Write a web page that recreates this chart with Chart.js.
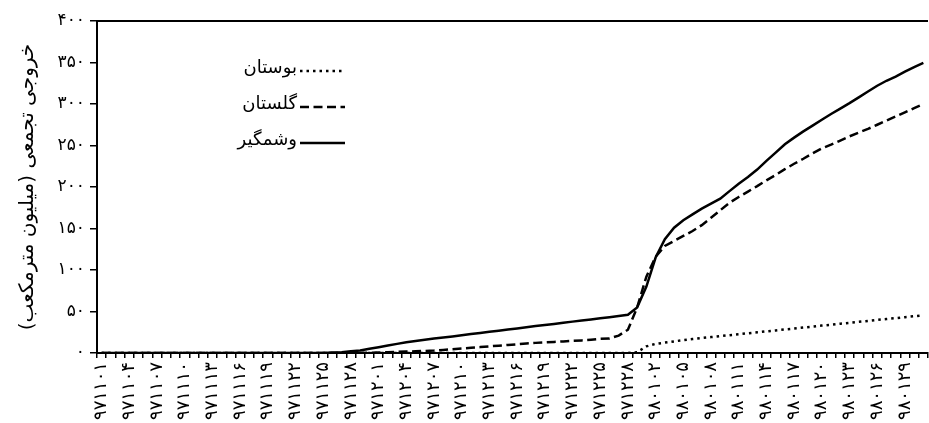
<!DOCTYPE html>
<html lang="fa">
<head>
<meta charset="utf-8">
<script src="https://cdn.jsdelivr.net/npm/chart.js@4.4.1/dist/chart.umd.min.js"></script>
<style>
  html, body { margin: 0; padding: 0; background: #fff; }
</style>
</head>
<body>
<canvas id="myChart" width="929" height="423"></canvas>
<script>
// روزها (تاریخ شمسی، روزانه)
const dates = [
  '971101','971102','971103','971104','971105','971106','971107','971108','971109','971110',
  '971111','971112','971113','971114','971115','971116','971117','971118','971119','971120',
  '971121','971122','971123','971124','971125','971126','971127','971128','971129','971130',
  '971201','971202','971203','971204','971205','971206','971207','971208','971209','971210',
  '971211','971212','971213','971214','971215','971216','971217','971218','971219','971220',
  '971221','971222','971223','971224','971225','971226','971227','971228','971229',
  '980101','980102','980103','980104','980105','980106','980107','980108','980109','980110',
  '980111','980112','980113','980114','980115','980116','980117','980118','980119','980120',
  '980121','980122','980123','980124','980125','980126','980127','980128','980129','980130',
  '980131'
];

// خروجی تجمعی (میلیون مترمکعب)
const bostan = [
  0,0,0,0,0,0,0,0,0,0,
  0,0,0,0,0,0,0,0,0,0,
  0,0,0,0,0,0,0,0,0,0,
  0,0,0,0,0,0,0,0,0,0,
  0,0,0,0,0,0,0,0,0,0,
  0,0,0,0,0,0,0,0,1,8,
  11,12.5,14,15.5,16.8,18,19.2,20.3,21.5,22.6,
  23.8,24.9,26.1,27.2,28.4,29.5,30.7,31.8,33,34.1,
  35.3,36.4,37.5,38.6,39.8,40.9,42,43.2,44.3,45.5
];
const golestan = [
  0,0,0,0,0,0,0,0,0,0,
  0,0,0,0,0,0,0,0,0,0,
  0,0,0,0,0,0,0,0,0,0.3,
  0.6,1,1.3,1.7,2.1,2.5,2.9,3.7,4.6,5.4,
  6.3,7.1,8,8.8,9.7,10.5,11.4,12.2,12.8,13.4,
  14,14.6,15.2,16,17,17.5,21,28,55,92,
  116,129,135,141,147,154,163,172,181,188,
  194.5,201,208,214.5,221.5,228,234,240.5,246.5,251,
  256,261,265.5,270,275,280,285,290,295,300
];
const voshmgir = [
  0,0,0,0,0,0,0,0,0,0,
  0,0,0,0,0,0,0,0,0,0,
  0,0,0,0,0,0.5,1,2,3,5,
  7,9,11,13,14.5,16,17.4,18.7,20,21.4,
  22.8,24.2,25.5,26.9,28.3,29.6,31,32.4,33.7,35,
  36.4,37.8,39.2,40.5,41.9,43.2,44.6,46,55,80,
  115,137,151,160,167,174,180,186,195,204,
  212,221,231.5,241.5,251.5,259.5,267,274,281,288,
  294.5,301,308,315,322,328,333,339,344.5,349.5
];

const seriesNames = ['بوستان', 'گلستان', 'وشمگیر'];
const yTitle = 'خروجی تجمعی (میلیون مترمکعب)';
const yMin = 0, yMax = 400, yStep = 50;

const FONT = '"DejaVu Sans", sans-serif';

// ارقام فارسی
function fa(s) {
  return String(s).replace(/\d/g, d => '۰۱۲۳۴۵۶۷۸۹'[d]);
}

// legend inside the plot
const legendInPlot = {
  id: 'legendInPlot',
  afterDraw(chart) {
    const ctx = chart.ctx;
    ctx.save();
    ctx.font = '18px ' + FONT;
    ctx.textAlign = 'right';
    ctx.textBaseline = 'middle';
    ctx.fillStyle = '#000';
    chart.data.datasets.forEach((ds, i) => {
      const y = 68 + i * 36;
      ctx.fillText(ds.label, 297, y);
      ctx.strokeStyle = ds.borderColor;
      ctx.lineWidth = ds.borderWidth;
      ctx.setLineDash(ds.borderDash || []);
      ctx.beginPath();
      ctx.moveTo(300, y + 3);
      ctx.lineTo(345, y + 3);
      ctx.stroke();
    });
    ctx.restore();
  }
};

// top frame line
const frameTop = {
  id: 'frameTop',
  afterDraw(chart) {
    const {ctx, chartArea} = chart;
    ctx.save();
    ctx.strokeStyle = '#000';
    ctx.lineWidth = 2;
    ctx.beginPath();
    ctx.moveTo(chartArea.left - 1, chartArea.top);
    ctx.lineTo(chartArea.right, chartArea.top);
    ctx.stroke();
    ctx.restore();
  }
};

function line(label, data, dash) {
  return {
    label: label,
    data: data,
    borderColor: '#000',
    backgroundColor: '#000',
    borderWidth: 2.5,
    borderDash: dash,
    pointRadius: 0,
    tension: 0,
    fill: false
  };
}

new Chart(document.getElementById('myChart'), {
  type: 'line',
  data: {
    labels: dates,
    datasets: [
      line(seriesNames[0], bostan, [2.5, 4]),
      line(seriesNames[1], golestan, [9, 4.5]),
      line(seriesNames[2], voshmgir, [])
    ]
  },
  options: {
    responsive: false,
    animation: false,
    layout: { padding: { top: 21, right: 1, left: 0, bottom: 0 } },
    plugins: {
      legend: { display: false },
      tooltip: { enabled: false }
    },
    scales: {
      x: {
        type: 'category',
        offset: true,
        afterFit: (s) => {
          s.height = 70;
          s.paddingLeft = 0;
          s.paddingRight = 0;
        },
        grid: {
          offset: true,
          drawOnChartArea: false,
          drawTicks: true,
          tickLength: 5,
          color: '#000',
          lineWidth: 1.5
        },
        border: { color: '#000', width: 2 },
        ticks: {
          autoSkip: false,
          maxRotation: 90,
          minRotation: 90,
          padding: 4,
          color: '#000',
          font: { family: FONT, size: 18 },
          callback: (v, i) => (i % 3 === 0 ? fa(dates[i]) : '')
        }
      },
      y: {
        min: yMin,
        max: yMax,
        afterFit: (s) => { s.width = 97; },
        grid: {
          drawOnChartArea: false,
          drawTicks: true,
          tickLength: 7,
          color: '#000',
          lineWidth: 1.5
        },
        border: { color: '#000', width: 2 },
        ticks: {
          stepSize: yStep,
          padding: 5,
          color: '#000',
          font: { family: FONT, size: 17 },
          callback: (v) => fa(v)
        },
        title: {
          display: true,
          text: yTitle,
          color: '#000',
          padding: { top: 16, bottom: 0 },
          font: { family: FONT, size: 20 }
        }
      }
    }
  },
  plugins: [legendInPlot, frameTop]
});
</script>
</body>
</html>
